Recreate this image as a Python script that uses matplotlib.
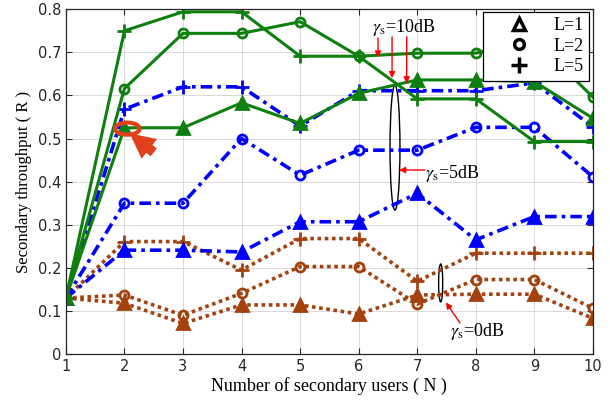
import matplotlib
matplotlib.use("Agg")
import matplotlib.pyplot as plt
from matplotlib.patches import Ellipse
from matplotlib.lines import Line2D

plt.rcParams['mathtext.fontset'] = 'stix'

N = [1, 2, 3, 4, 5, 6, 7, 8, 9, 10]

# gamma_s = 10 dB (green, solid)
g10_L1 = [0.13, 0.525, 0.525, 0.583, 0.535, 0.605, 0.636, 0.636, 0.632, 0.547]
g10_L2 = [0.13, 0.616, 0.744, 0.744, 0.771, 0.691, 0.698, 0.698, 0.730, 0.596]
g10_L5 = [0.13, 0.750, 0.794, 0.794, 0.691, 0.691, 0.592, 0.592, 0.493, 0.493]

# gamma_s = 5 dB (blue, dash-dot)
g5_L1 = [0.13, 0.241, 0.241, 0.237, 0.307, 0.307, 0.373, 0.265, 0.319, 0.319]
g5_L2 = [0.13, 0.350, 0.350, 0.500, 0.415, 0.473, 0.473, 0.526, 0.526, 0.411]
g5_L5 = [0.13, 0.568, 0.620, 0.620, 0.529, 0.611, 0.611, 0.611, 0.629, 0.527]

# gamma_s = 0 dB (brown, dotted)
g0_L1 = [0.13, 0.118, 0.071, 0.114, 0.114, 0.093, 0.137, 0.139, 0.139, 0.083]
g0_L2 = [0.13, 0.137, 0.090, 0.141, 0.203, 0.203, 0.116, 0.173, 0.173, 0.106]
g0_L5 = [0.13, 0.261, 0.261, 0.195, 0.268, 0.268, 0.169, 0.234, 0.234, 0.234]

legend_labels = ['L=1', 'L=2', 'L=5']
yticks = [0, 0.1, 0.2, 0.3, 0.4, 0.5, 0.6, 0.7, 0.8]
yticklabels = ['0', '0.1', '0.2', '0.3', '0.4', '0.5', '0.6', '0.7', '0.8']

GREEN = '#0f7f0f'
BLUE = '#0000ff'
BROWN = '#a3420f'

fig = plt.figure(figsize=(6.10, 4.01), dpi=100)
ax = fig.add_axes([0.108, 0.117, 0.864, 0.860])

def draw(vals, color, ls, dashes, marker, ms, mfc, lw):
    ln, = ax.plot(N, vals, color=color, lw=lw, linestyle=ls, marker=marker,
                  ms=ms, mfc=mfc, mec=color, mew=2.0)
    if dashes is not None:
        ln.set_dashes(dashes)
    return ln

# brown dotted
for vals, mk, ms, mfc in [(g0_L1, '^', 8, BROWN), (g0_L2, 'o', 6.5, 'none'), (g0_L5, '+', 10, BROWN)]:
    draw(vals, BROWN, ':', (1.0, 1.0), mk, ms, mfc, 2.6)
# blue dash-dot
for vals, mk, ms, mfc in [(g5_L1, '^', 8, BLUE), (g5_L2, 'o', 6.5, 'none'), (g5_L5, '+', 10, BLUE)]:
    draw(vals, BLUE, '-.', (3.2, 1.4, 1.0, 1.4), mk, ms, mfc, 2.6)
# green solid
for vals, mk, ms, mfc in [(g10_L1, '^', 8, GREEN), (g10_L2, 'o', 6.5, 'none'), (g10_L5, '+', 10, GREEN)]:
    draw(vals, GREEN, '-', None, mk, ms, mfc, 2.2)

ax.set_xlim(1, 10)
ax.set_ylim(0, 0.8)
ax.set_xticks(N)
ax.set_yticks(yticks)
ax.set_yticklabels(yticklabels)
ax.grid(True, color='#d9d9d9', lw=0.7)
ax.set_axisbelow(True)
ax.tick_params(direction='in', top=True, right=True, length=4, width=0.8,
               labelsize=10.5, colors='#262626')
for lab in ax.get_xticklabels() + ax.get_yticklabels():
    lab.set_fontfamily('DejaVu Sans')
for s in ax.spines.values():
    s.set_color('#262626')
    s.set_linewidth(0.9)

ax.set_xlabel('Number of secondary users ( N )', family='Liberation Serif', fontsize=13, labelpad=2)
ax.set_ylabel('Secondary throughput ( R )', family='Liberation Serif', fontsize=12, labelpad=4)

# legend
handles = [Line2D([], [], ls='none', marker='^', ms=9, mfc='none', mec='k', mew=2.5),
           Line2D([], [], ls='none', marker='o', ms=7, mfc='none', mec='k', mew=2.5),
           Line2D([], [], ls='none', marker='+', ms=11, mec='k', mew=2.5)]
leg = ax.legend(handles, legend_labels, loc='upper right', bbox_to_anchor=(0.993, 0.993),
                prop={'family': 'Liberation Serif', 'size': 13}, frameon=True, fancybox=False,
                framealpha=1, edgecolor='k', handlelength=3.4, handletextpad=0.2,
                labelspacing=0.2, borderpad=0.3, borderaxespad=0)
leg.get_frame().set_linewidth(0.9)

# annotations
tfont = dict(family='Liberation Serif', fontsize=13)
ax.text(6.76, 0.757, r'$\gamma_{\mathrm{s}}$=10dB', ha='center', va='center', **tfont)
for x0, y0, y1 in [(6.33, 0.733, 0.688), (6.57, 0.736, 0.640), (6.82, 0.736, 0.628)]:
    ax.annotate('', xy=(x0, y1), xytext=(x0, y0),
                arrowprops=dict(arrowstyle='-|>', color='red', lw=1.0, mutation_scale=9,
                                shrinkA=0, shrinkB=0))

ax.add_patch(Ellipse((6.62, 0.479), 0.17, 0.29, fill=False, ec='k', lw=1.0))
ax.annotate('', xy=(6.69, 0.427), xytext=(7.13, 0.427),
            arrowprops=dict(arrowstyle='-|>', color='red', lw=1.0, mutation_scale=9,
                            shrinkA=0, shrinkB=0))
ax.text(7.14, 0.42, r'$\gamma_{\mathrm{s}}$=5dB', ha='left', va='center', **tfont)

ax.add_patch(Ellipse((7.40, 0.165), 0.07, 0.088, fill=False, ec='k', lw=1.0))
ax.annotate('', xy=(7.49, 0.12), xytext=(7.73, 0.072),
            arrowprops=dict(arrowstyle='-|>', color='red', lw=1.0, mutation_scale=9,
                            shrinkA=0, shrinkB=0))
ax.text(8.03, 0.052, r'$\gamma_{\mathrm{s}}$=0dB', ha='center', va='center', **tfont)

# red highlight at N=2
RED = '#e2401a'
ax.add_patch(Ellipse((2.05, 0.523), 0.42, 0.028, fill=False, ec=RED, lw=3.0, zorder=5))
ax.annotate('', xy=(2.09, 0.512), xytext=(2.50, 0.468),
            arrowprops=dict(arrowstyle='simple,head_length=1.0,head_width=1.0,tail_width=0.4',
                            color=RED, lw=0, mutation_scale=18, shrinkA=0, shrinkB=0),
            zorder=5)

fig.savefig('out.png', dpi=100)
